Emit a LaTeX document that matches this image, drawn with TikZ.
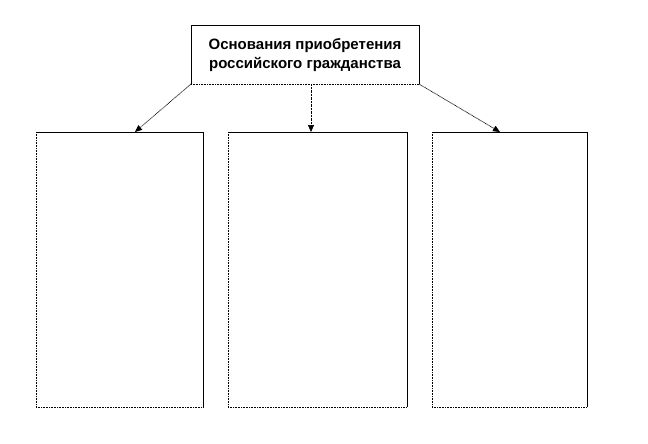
\documentclass[tikz,border=0pt]{standalone}
\usepackage{fontspec}
\setmainfont{Liberation Sans}
\usetikzlibrary{arrows.meta}
\begin{document}
\begin{tikzpicture}[x=1pt,y=-1pt,
  solidedge/.style={draw=black,line width=0.8pt},
  dotedge/.style={draw=black,line width=0.8pt,dash pattern=on 0.8pt off 0.8pt},
  conn/.style={draw=black,line width=0.7pt,dash pattern=on 0.8pt off 0.6pt,-{Triangle[length=7pt,width=6pt]}},
  title/.style={align=center,font=\fontsize{15}{19}\selectfont\bfseries,inner sep=0pt}]
\useasboundingbox (0,0) rectangle (648,444);
% top box
\coordinate (tl) at (191,25);
\coordinate (tr) at (419,25);
\coordinate (bl) at (191,84);
\coordinate (br) at (419,84);
\coordinate (bm) at (311,84);
\path[solidedge] (bl) -- (tl) -- (tr) -- (br);
\path[dotedge] (bl) -- (br);
\path[dotedge] (bl) -- (tl);
\node[title] (head) at (305,55) {Основания приобретения\\российского гражданства};
% lower boxes
\foreach \n/\a/\b in {L/36/203, M/228/407, R/432/587}{
  \coordinate (\n tl) at (\a,132);
  \coordinate (\n tr) at (\b,132);
  \coordinate (\n bl) at (\a,407);
  \coordinate (\n br) at (\b,407);
  \path[solidedge] (\n tl) -- (\n tr) -- (\n br);
  \path[dotedge] (\n tl) -- (\n bl) -- (\n br);
}
\coordinate (Ltip) at (135,132);
\coordinate (Mtip) at (311,132);
\coordinate (Rtip) at (500,132);
\path[conn] (bl) -- (Ltip);
\path[conn] (bm) -- (Mtip);
\path[conn] (br) -- (Rtip);
\end{tikzpicture}
\end{document}
